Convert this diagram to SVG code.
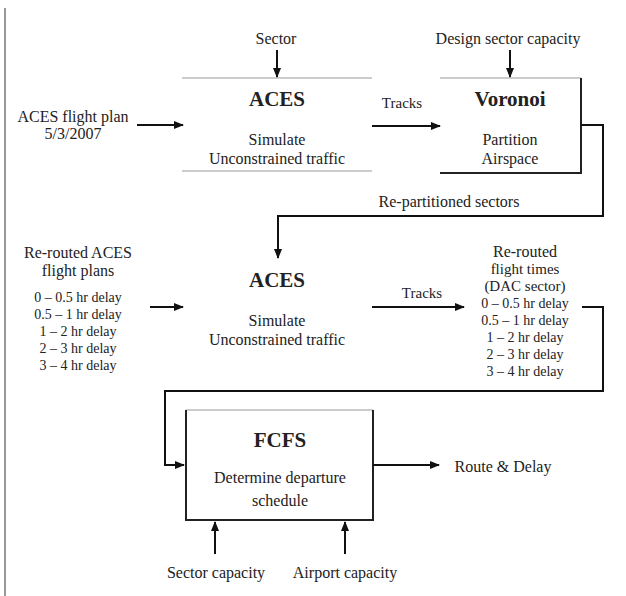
<svg xmlns="http://www.w3.org/2000/svg" width="626" height="596" viewBox="0 0 626 596">
<defs>
<marker id="ah" viewBox="0 0 10 10" refX="9" refY="5" markerWidth="5" markerHeight="5" orient="auto" markerUnits="strokeWidth">
<path d="M0,1 L10,5 L0,9 z" fill="#111"/>
</marker>
</defs>
<style>
text{font-family:"Liberation Serif","Times New Roman",serif;fill:#222;text-anchor:middle}
.t{font-size:21px;font-weight:bold}
.b{font-size:16px}
.m{font-size:15px}
.s{font-size:14px}
.box{fill:none;stroke:#222;stroke-width:2}
.faint{fill:none;stroke:#999;stroke-width:1}
.c{fill:none;stroke:#111;stroke-width:2}
.a{marker-end:url(#ah)}
</style>
<rect width="626" height="596" fill="#fff"/>
<line x1="5" y1="8" x2="5" y2="596" stroke="#777" stroke-width="1.5"/>

<g id="aces1">
<line class="faint" x1="182" y1="78" x2="372" y2="78"/>
<line class="faint" x1="182" y1="171" x2="372" y2="171"/>
<text class="t" x="277" y="106">ACES</text>
<text class="b" x="277" y="145">Simulate</text>
<text class="b" x="277" y="164">Unconstrained traffic</text>
</g>

<g id="voronoi">
<line class="faint" x1="440" y1="78" x2="581" y2="78"/>
<path class="box" d="M581,78 V173 H440"/>
<text class="t" x="510" y="106">Voronoi</text>
<text class="b" x="510" y="145">Partition</text>
<text class="b" x="510" y="164">Airspace</text>
</g>

<g id="aces2">
<text class="t" x="277" y="287">ACES</text>
<text class="b" x="277" y="326">Simulate</text>
<text class="b" x="277" y="345">Unconstrained traffic</text>
</g>

<g id="fcfs">
<line class="faint" x1="186" y1="410" x2="373" y2="410"/>
<path class="box" d="M186,410 V520 H373 V410"/>
<text class="t" x="280" y="447">FCFS</text>
<text class="b" x="280" y="483">Determine departure</text>
<text class="b" x="280" y="506">schedule</text>
</g>

<g id="inputs">
<text class="b" x="276" y="44">Sector</text>
<text class="b" x="508" y="44">Design sector capacity</text>
<text class="b" x="73" y="122">ACES flight plan</text>
<text class="b" x="73" y="139">5/3/2007</text>
<text class="b" x="78" y="258">Re-routed ACES</text>
<text class="b" x="78" y="276">flight plans</text>
<text class="s" x="78" y="302">0 – 0.5 hr delay</text>
<text class="s" x="78" y="319">0.5 – 1 hr delay</text>
<text class="s" x="78" y="336">1 – 2 hr delay</text>
<text class="s" x="78" y="353">2 – 3 hr delay</text>
<text class="s" x="78" y="370">3 – 4 hr delay</text>
<text class="b" x="525" y="257">Re-routed</text>
<text class="m" x="525" y="274">flight times</text>
<text class="m" x="525" y="291">(DAC sector)</text>
<text class="s" x="525" y="308">0 – 0.5 hr delay</text>
<text class="s" x="525" y="325">0.5 – 1 hr delay</text>
<text class="s" x="525" y="342">1 – 2 hr delay</text>
<text class="s" x="525" y="359">2 – 3 hr delay</text>
<text class="s" x="525" y="376">3 – 4 hr delay</text>
<text class="b" x="216" y="578">Sector capacity</text>
<text class="b" x="345" y="578">Airport capacity</text>
<text class="b" x="503" y="472">Route &amp; Delay</text>
</g>

<g id="connectors">
<line class="c a" x1="277" y1="50" x2="277" y2="77"/>
<line class="c a" x1="510" y1="50" x2="510" y2="77"/>
<line class="c a" x1="137" y1="125" x2="183" y2="125"/>
<line class="c a" x1="372" y1="126" x2="440" y2="126"/>
<text class="m" x="402" y="108">Tracks</text>
<path class="c a" d="M581,125 H603 V216 H278 V258"/>
<text class="b" x="449" y="207">Re-partitioned sectors</text>
<line class="c a" x1="150" y1="307" x2="183" y2="307"/>
<line class="c a" x1="372" y1="307" x2="464" y2="307"/>
<text class="m" x="422" y="298">Tracks</text>
<path class="c a" d="M582,307 H603 V391 H165 V465 H184"/>
<line class="c a" x1="373" y1="465" x2="439" y2="465"/>
<line class="c a" x1="215" y1="554" x2="215" y2="522"/>
<line class="c a" x1="345" y1="554" x2="345" y2="522"/>
</g>
</svg>
